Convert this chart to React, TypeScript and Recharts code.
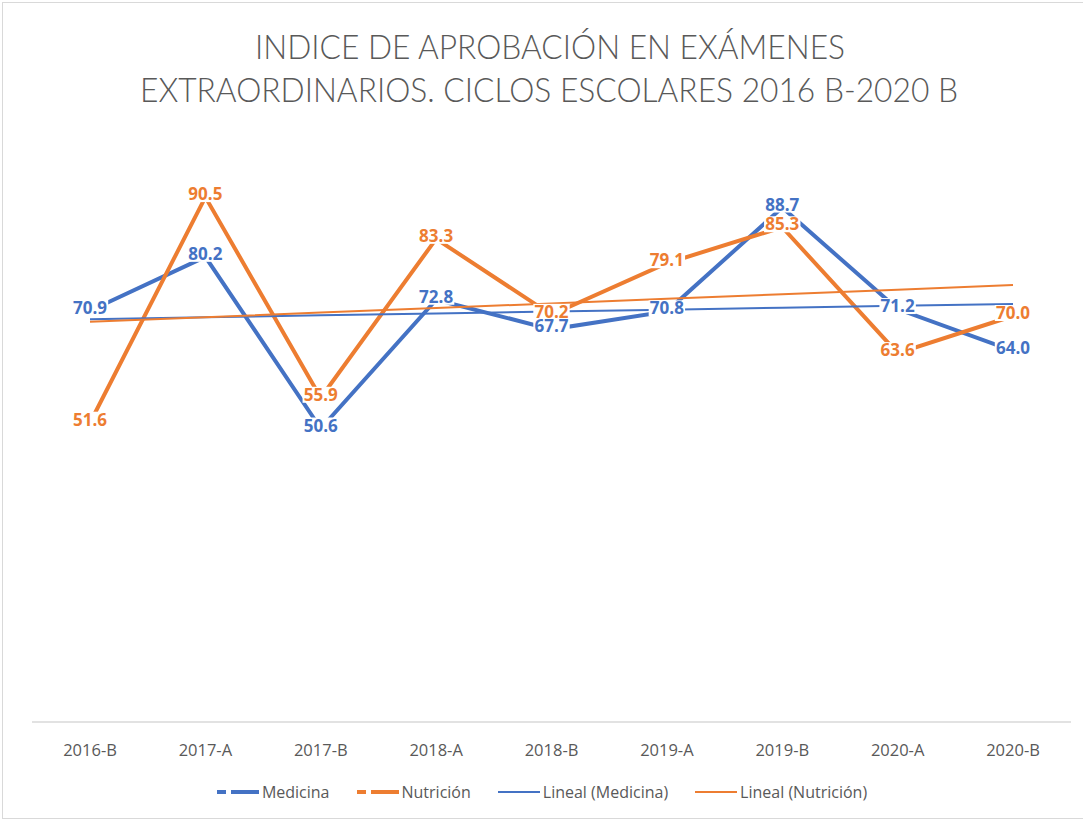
import { LineChart, Line, XAxis, YAxis, LabelList } from 'recharts';

const ciclos = ['2016-B', '2017-A', '2017-B', '2018-A', '2018-B', '2019-A', '2019-B', '2020-A', '2020-B'];
const medicina = [70.9, 80.2, 50.6, 72.8, 67.7, 70.8, 88.7, 71.2, 64.0];
const nutricion = [51.6, 90.5, 55.9, 83.3, 70.2, 79.1, 85.3, 63.6, 70.0];

const AZUL = '#4472C4';
const NARANJA = '#ED7D31';
const GRIS = '#595959';

// least-squares trend, same as Excel's "Lineal" trendline
function tendencia(vals: number[]) {
  const n = vals.length;
  const xs = vals.map((_, i) => i + 1);
  const mx = xs.reduce((a, b) => a + b, 0) / n;
  const my = vals.reduce((a, b) => a + b, 0) / n;
  let sxy = 0, sxx = 0;
  xs.forEach((x, i) => { sxy += (x - mx) * (vals[i] - my); sxx += (x - mx) ** 2; });
  const m = sxy / sxx;
  return xs.map((x) => my + m * (x - mx));
}

const tMed = tendencia(medicina);
const tNut = tendencia(nutricion);

const data = ciclos.map((c, i) => ({
  ciclo: c,
  medicina: medicina[i],
  nutricion: nutricion[i],
  tMed: tMed[i],
  tNut: tNut[i],
}));

const makeLabel = (color: string) => (props: any) => {
  const { x, y, value } = props;
  if (value == null) return null;
  const txt = Number(value).toFixed(1);
  const w = txt.length * 8.6 + 2;
  const cy = y - 3;
  return (
    <g>
      <rect x={x - w / 2} y={cy - 8} width={w} height={16} fill="#fff" />
      <text x={x} y={cy} dy="0.36em" textAnchor="middle" fill={color}
        fontSize={17} fontWeight="bold" fontFamily="'Open Sans', sans-serif">
        {txt}
      </text>
    </g>
  );
};

const legendItems = [
  { name: 'Medicina', color: AZUL, serie: true },
  { name: 'Nutrición', color: NARANJA, serie: true },
  { name: 'Lineal (Medicina)', color: AZUL, serie: false },
  { name: 'Lineal (Nutrición)', color: NARANJA, serie: false },
];

function Leyenda() {
  return (
    <div style={{ display: 'flex', justifyContent: 'center', gap: 26, fontFamily: "'Open Sans', sans-serif", fontSize: 16, color: GRIS }}>
      {legendItems.map((it) => (
        <div key={it.name} style={{ display: 'flex', alignItems: 'center' }}>
          <svg width={44} height={10}>
            {it.serie ? (
              <>
                <line x1={1} y1={5} x2={10} y2={5} stroke={it.color} strokeWidth={4} />
                <line x1={15} y1={5} x2={43} y2={5} stroke={it.color} strokeWidth={4} />
              </>
            ) : (
              <line x1={1} y1={5} x2={43} y2={5} stroke={it.color} strokeWidth={2} />
            )}
          </svg>
          <span style={{ marginLeft: 2 }}>{it.name}</span>
        </div>
      ))}
    </div>
  );
}

export default function App() {
  return (
    <div style={{ position: 'absolute', left: 0, top: 0, width: 1083, height: 822, background: '#fff', overflow: 'hidden' }}>
      <div style={{ position: 'absolute', left: 2, top: 2, width: 1100, height: 815, borderLeft: '1px solid #d9d9d9', borderTop: '1px solid #d9d9d9', borderBottom: '1px solid #d9d9d9' }} />
      <svg width={1083} height={120} style={{ position: 'absolute', left: 0, top: 0 }}>
        <text x={550} y={59} textAnchor="middle" fontSize={34} fontWeight={300} fill={GRIS}
          fontFamily="Lato, 'Open Sans', sans-serif" textLength={590} lengthAdjust="spacingAndGlyphs">
          INDICE DE APROBACIÓN EN EXÁMENES
        </text>
        <text x={549} y={102} textAnchor="middle" fontSize={34} fontWeight={300} fill={GRIS}
          fontFamily="Lato, 'Open Sans', sans-serif" textLength={818} lengthAdjust="spacingAndGlyphs">
          EXTRAORDINARIOS. CICLOS ESCOLARES 2016 B-2020 B
        </text>
      </svg>
      <div style={{ position: 'absolute', left: 0, top: 0 }}>
        <LineChart width={1083} height={822} data={data} margin={{ top: 142, right: 12, bottom: 70, left: 32 }}>
          <XAxis dataKey="ciclo" height={30} padding={{ left: 58, right: 58 }} tickLine={false}
            tickSize={6} tickMargin={16} axisLine={{ stroke: '#d9d9d9', strokeWidth: 1.5 }}
            tick={{ fill: GRIS, fontSize: 16.5, fontFamily: "'Open Sans', sans-serif" }} interval={0} />
          <YAxis hide domain={[0, 100]} />
          <Line dataKey="medicina" stroke={AZUL} strokeWidth={4} dot={false} isAnimationActive={false} />
          <Line dataKey="nutricion" stroke={NARANJA} strokeWidth={4} dot={false} isAnimationActive={false} />
          <Line dataKey="tMed" stroke={AZUL} strokeWidth={2} dot={false} isAnimationActive={false} />
          <Line dataKey="tNut" stroke={NARANJA} strokeWidth={2} dot={false} isAnimationActive={false} />
          <Line dataKey="nutricion" stroke="none" dot={false} isAnimationActive={false} legendType="none">
            <LabelList dataKey="nutricion" content={makeLabel(NARANJA)} />
          </Line>
          <Line dataKey="medicina" stroke="none" dot={false} isAnimationActive={false} legendType="none">
            <LabelList dataKey="medicina" content={makeLabel(AZUL)} />
          </Line>
        </LineChart>
      </div>
      <div style={{ position: 'absolute', left: 0, top: 781, width: 1083 }}>
        <Leyenda />
      </div>
    </div>
  );
}
